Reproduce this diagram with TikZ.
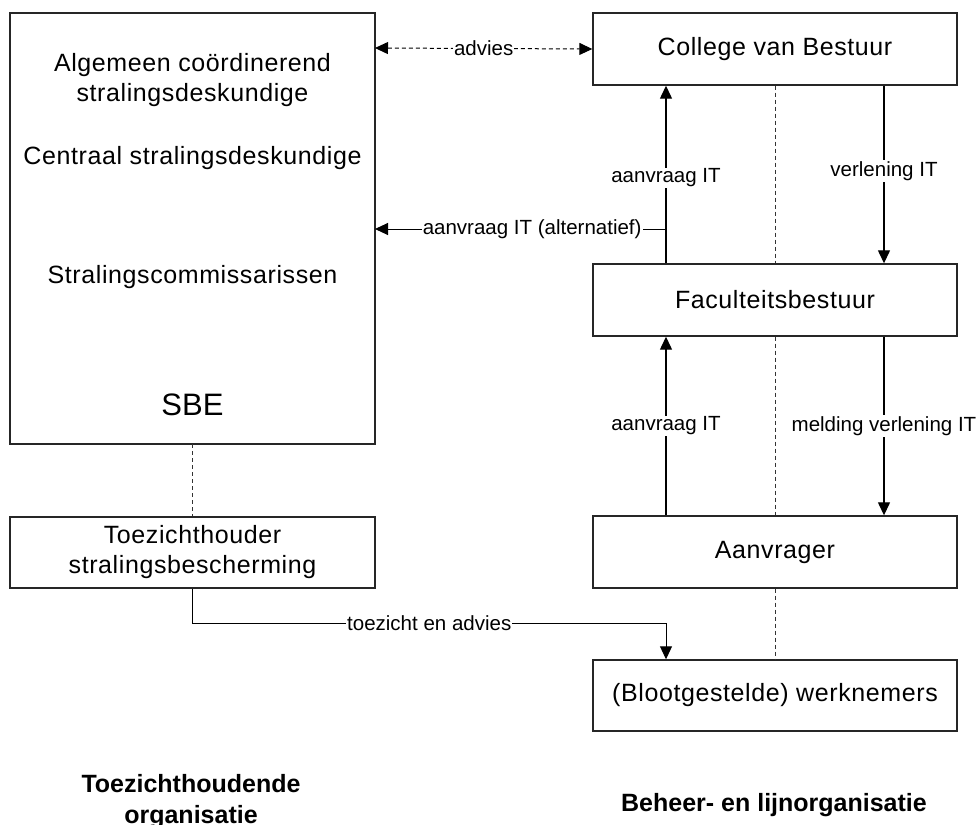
\documentclass[tikz,border=0pt]{standalone}
\usepackage{fontspec}
\setmainfont{Liberation Sans}
\newfontfamily\spacedfont[LetterSpace=2.4]{Liberation Sans}
\usetikzlibrary{arrows.meta}
\tikzset{
  box/.style={draw=black!85, line width=1.4pt, fill=white},
  main/.style={font=\spacedfont\fontsize{25}{30}\selectfont, align=center},
  lab/.style={font=\fontsize{20.5}{24}\selectfont, fill=white, inner sep=1pt},
  flow/.style={line width=1.3pt, -{Triangle[length=13pt,width=12pt]}},
  thin/.style={line width=1pt},
  guide/.style={line width=0.9pt, dashed, dash pattern=on 4pt off 3pt, black!80},
}
\begin{document}
\begin{tikzpicture}[x=1pt,y=-1pt]
\useasboundingbox (0,0) rectangle (978,825);
% left column
\draw[box] (10,13) rectangle (375,444);
\node[main] (acs) at (192.5,80) {Algemeen coördinerend\\stralingsdeskundige};
\node[main] (csd) at (192.5,158) {Centraal stralingsdeskundige};
\node[main] (sc) at (192.5,277) {Stralingscommissarissen};
\node[font=\fontsize{31}{36}\selectfont] (sbe) at (192.5,405) {SBE};
\coordinate (Lr) at (375,48);
\coordinate (Lr2) at (375,229);
\coordinate (Lb) at (192.5,444);
\node[box, main, minimum width=365pt, minimum height=71pt] (tz) at (192.5,552.5) {Toezichthouder\\stralingsbescherming};
% right column
\node[box, main, minimum width=364pt, minimum height=72pt] (cvb) at (775,49) {College van Bestuur};
\node[box, main, minimum width=364pt, minimum height=72pt] (fb) at (775,300) {Faculteitsbestuur};
\node[box, main, minimum width=364pt, minimum height=72pt] (aan) at (775,552) {Aanvrager};
\node[box, main, minimum width=364pt, minimum height=71pt] (wn) at (775,695.5) {(Blootgestelde) werknemers};
% dashed guides
\draw[guide] (Lb) -- (tz.north);
\draw[guide] (cvb.south) -- (fb.north);
\draw[guide] (fb.south) -- (aan.north);
\draw[guide] (aan.south) -- (wn.north);
% advies
\draw[thin, dashed, dash pattern=on 4pt off 3pt, {Triangle[length=13pt,width=12pt]}-{Triangle[length=13pt,width=12pt]}] (Lr) -- node[lab]{advies} (cvb.west);
% arrows
\draw[flow] (fb.north -| 666,0) -- node[lab, pos=0.48]{aanvraag IT} (cvb.south -| 666,0);
\draw[flow] (cvb.south -| 884,0) -- node[lab, pos=0.48]{verlening IT} (fb.north -| 884,0);
\draw[flow] (aan.north -| 666,0) -- node[lab, pos=0.5]{aanvraag IT} (fb.south -| 666,0);
\draw[flow] (fb.south -| 884,0) -- node[lab, pos=0.5]{melding verlening IT} (aan.north -| 884,0);
\coordinate (alt) at (666,229);
\draw[thin, -{Triangle[length=13pt,width=12pt]}] (alt) -- node[lab, pos=0.46]{aanvraag IT (alternatief)} (Lr2);
% toezicht en advies
\coordinate (t1) at (192.5,623);
\coordinate (t2) at (666,623);
\draw[thin] (tz.south) -- (t1) -- node[lab, pos=0.5]{toezicht en advies} (t2);
\draw[thin, -{Triangle[length=13pt,width=12pt]}] (t2) -- (wn.north -| t2);
% bottom headings
\node[font=\bfseries\fontsize{25}{31}\selectfont, align=center, anchor=north] (h1) at (191,771) {Toezichthoudende\\organisatie};
\node[font=\bfseries\fontsize{25}{31}\selectfont] (h2) at (774,805) {Beheer- en lijnorganisatie};
\end{tikzpicture}
\end{document}
